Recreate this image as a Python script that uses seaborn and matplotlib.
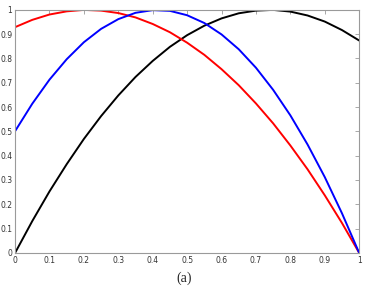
import numpy as np
import pandas as pd
import seaborn as sns
import matplotlib.pyplot as plt

# values at x = 0, 0.05, ..., 1
x_vals = [0.00, 0.05, 0.10, 0.15, 0.20, 0.25, 0.30, 0.35, 0.40, 0.45, 0.50,
          0.55, 0.60, 0.65, 0.70, 0.75, 0.80, 0.85, 0.90, 0.95, 1.00]
black_vals = [0.000, 0.131, 0.253, 0.365, 0.469, 0.563, 0.648, 0.724, 0.790, 0.848, 0.896,
              0.935, 0.965, 0.986, 0.997, 1.000, 0.993, 0.977, 0.952, 0.917, 0.874]
red_vals = [0.929, 0.959, 0.981, 0.994, 1.000, 0.997, 0.987, 0.969, 0.942, 0.908, 0.865,
            0.815, 0.756, 0.690, 0.615, 0.533, 0.442, 0.344, 0.237, 0.123, 0.000]
blue_vals = [0.501, 0.614, 0.713, 0.797, 0.867, 0.922, 0.962, 0.988, 0.999, 0.996, 0.978,
             0.946, 0.899, 0.838, 0.762, 0.671, 0.566, 0.446, 0.312, 0.163, 0.000]
ticks = [0, 0.1, 0.2, 0.3, 0.4, 0.5, 0.6, 0.7, 0.8, 0.9, 1]
tick_labels = ['0', '0.1', '0.2', '0.3', '0.4', '0.5', '0.6', '0.7', '0.8', '0.9', '1']

df = pd.DataFrame({
    'x': x_vals * 3,
    'y': black_vals + red_vals + blue_vals,
    'curve': ['black'] * 21 + ['red'] * 21 + ['blue'] * 21,
})

sns.set_style("white")
plt.rcParams['font.family'] = ['DejaVu Sans']

fig = plt.figure(figsize=(3.68, 2.91), dpi=100)
ax = fig.add_axes([0.041, 0.131, 0.935, 0.835])

sns.lineplot(data=df, x='x', y='y', hue='curve',
             palette={'black': 'black', 'red': 'red', 'blue': 'blue'},
             linewidth=1.4, legend=False, ax=ax)

ax.set_xlim(0, 1)
ax.set_ylim(0, 1)
ax.set_xticks(ticks)
ax.set_xticklabels(tick_labels)
ax.set_yticks(ticks)
ax.set_yticklabels(tick_labels)
ax.set_xlabel('')
ax.set_ylabel('')
for s in ax.spines.values():
    s.set_color('#9a9a9a')
    s.set_linewidth(0.8)
    s.set_visible(True)
ax.tick_params(direction='in', length=3, width=0.6, color='#9a9a9a',
               labelsize=5.5, labelcolor='#333333', top=True, right=True, pad=2)

fig.text(0.5, 0.045, '(a)', ha='center', va='center',
         fontsize=10, family='Liberation Serif')

fig.savefig('out.png', dpi=100)
